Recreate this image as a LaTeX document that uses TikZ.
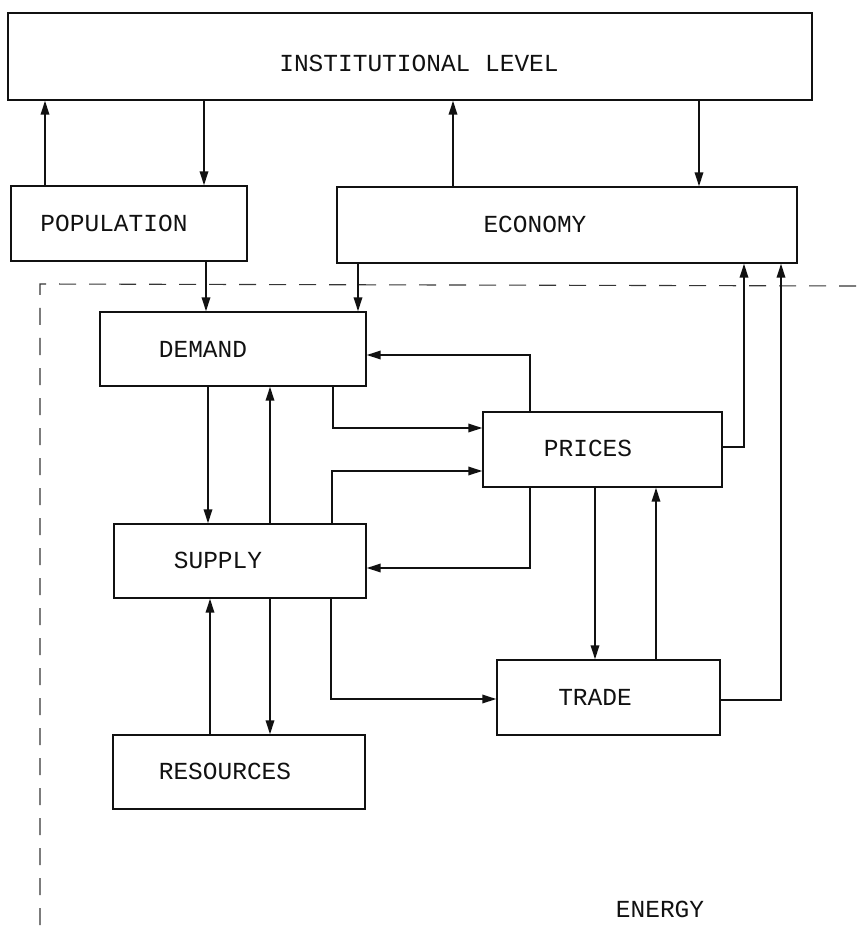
\documentclass[tikz,border=0pt]{standalone}
\usepackage{fontspec}
\setmainfont{Liberation Mono}
\usepackage{tikz}
\usetikzlibrary{arrows.meta}
\definecolor{enrgink}{HTML}{111111}

\begin{document}
\begin{tikzpicture}[x=1pt,y=-1pt,
  enrgbox/.style={draw=enrgink,line width=1.4pt,rectangle,inner sep=0pt},
  enrglbl/.style={font=\fontsize{24.5}{28}\selectfont,text=enrgink,inner sep=0pt},
  enrgarr/.style={draw=enrgink,line width=1.8pt,-{Triangle[length=14pt,width=8.5pt]}},
  enrgdash/.style={draw=enrgink!85,line width=1.1pt,dash pattern=on 17pt off 13pt}]
  \useasboundingbox (0,0) rectangle (856,928);
  % boxes
  \node[enrgbox,minimum width=804pt,minimum height=87pt] (inst) at (410,56.5) {};
  \node[enrgbox,minimum width=236pt,minimum height=75pt] (pop) at (129,223.5) {};
  \node[enrgbox,minimum width=460pt,minimum height=76pt] (econ) at (567,225) {};
  \node[enrgbox,minimum width=266pt,minimum height=74pt] (dem) at (233,349) {};
  \node[enrgbox,minimum width=239pt,minimum height=75pt] (pri) at (602.5,449.5) {};
  \node[enrgbox,minimum width=252pt,minimum height=74pt] (sup) at (240,561) {};
  \node[enrgbox,minimum width=223pt,minimum height=75pt] (trd) at (608.5,697.5) {};
  \node[enrgbox,minimum width=252pt,minimum height=74pt] (res) at (239,772) {};
  % labels
  \node[enrglbl] (instL) at (419,63) {INSTITUTIONAL LEVEL};
  \node[enrglbl] (popL) at (114,223) {POPULATION};
  \node[enrglbl] (econL) at (535,224) {ECONOMY};
  \node[enrglbl] (demL) at (203,349) {DEMAND};
  \node[enrglbl] (priL) at (588,448) {PRICES};
  \node[enrglbl] (supL) at (218,560) {SUPPLY};
  \node[enrglbl] (trdL) at (595,697) {TRADE};
  \node[enrglbl] (resL) at (225,771) {RESOURCES};
  \node[enrglbl] (enrgL) at (660,909) {ENERGY};
  % energy sector boundary
  \coordinate (sectorTL) at (40,284);
  \coordinate (sectorTR) at (856,286);
  \coordinate (sectorBL) at (40,928);
  \draw[enrgdash] (sectorTR) -- (sectorTL) -- (sectorBL);
  % institutional links
  \draw[enrgarr] (pop.north -| 45,0) -- (inst.south -| 45,0);
  \draw[enrgarr] (inst.south -| 204,0) -- (pop.north -| 204,0);
  \draw[enrgarr] (econ.north -| 453,0) -- (inst.south -| 453,0);
  \draw[enrgarr] (inst.south -| 699,0) -- (econ.north -| 699,0);
  % into demand
  \draw[enrgarr] (pop.south -| 206,0) -- (dem.north -| 206,0);
  \draw[enrgarr] (econ.south -| 358,0) -- (dem.north -| 358,0);
  \draw[enrgarr] (pri.north -| 530,0) |- (dem.east |- 0,355);
  \draw[enrgarr] (dem.south -| 333,0) |- (pri.west |- 0,428);
  % demand and supply
  \draw[enrgarr] (dem.south -| 208,0) -- (sup.north -| 208,0);
  \draw[enrgarr] (sup.north -| 270,0) -- (dem.south -| 270,0);
  \draw[enrgarr] (sup.north -| 332,0) |- (pri.west |- 0,471);
  \draw[enrgarr] (pri.south -| 530,0) |- (sup.east |- 0,568);
  \draw[enrgarr] (sup.south -| 331,0) |- (trd.west |- 0,699);
  % prices and trade
  \draw[enrgarr] (pri.south -| 595,0) -- (trd.north -| 595,0);
  \draw[enrgarr] (trd.north -| 656,0) -- (pri.south -| 656,0);
  % resources
  \draw[enrgarr] (res.north -| 210,0) -- (sup.south -| 210,0);
  \draw[enrgarr] (sup.south -| 270,0) -- (res.north -| 270,0);
  % back to economy
  \draw[enrgarr] (pri.east |- 0,447) -| (econ.south -| 744,0);
  \draw[enrgarr] (trd.east |- 0,700) -| (econ.south -| 781,0);
\end{tikzpicture}
\end{document}
